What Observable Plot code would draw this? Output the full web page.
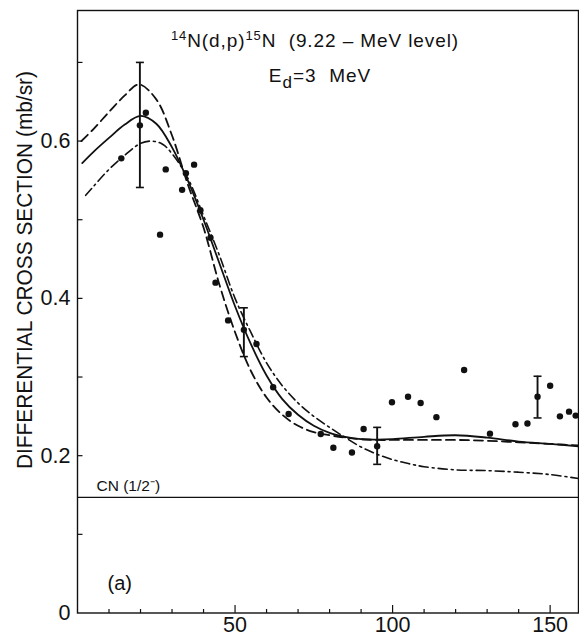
<!DOCTYPE html>
<html><head><meta charset="utf-8">
<script src="https://cdn.jsdelivr.net/npm/d3@7"></script>
<script src="https://cdn.jsdelivr.net/npm/@observablehq/plot@0.6"></script>
<style>body{margin:0;background:#fff} svg{display:block}</style>
</head><body><div id="chart"></div>
<script>
// ---- data ----
const expAngles = [13.9, 19.8, 21.7, 26.2, 28.0, 33.2, 34.4, 37.0, 39.0, 42.2, 43.8, 47.8, 52.8, 56.8, 62.1, 67.0, 77.2, 81.2, 87.1, 90.8, 95.1, 99.8, 104.9, 108.9, 113.9, 122.7, 130.9, 139.0, 142.8, 146.0, 150.0, 153.1, 156.0, 158.1];
const expValues = [0.578, 0.620, 0.636, 0.481, 0.564, 0.538, 0.559, 0.570, 0.512, 0.477, 0.420, 0.372, 0.360, 0.342, 0.287, 0.253, 0.2275, 0.210, 0.204, 0.234, 0.212, 0.268, 0.275, 0.267, 0.249, 0.309, 0.228, 0.240, 0.241, 0.275, 0.289, 0.250, 0.256, 0.251];

const errAngles = [19.8, 52.8, 95.1, 146.0];
const errLow    = [0.541, 0.326, 0.189, 0.248];
const errHigh   = [0.700, 0.388, 0.236, 0.301];

const solidAngles = [1.5, 5, 10, 15, 20, 25, 30, 35, 40, 45, 50, 55, 60, 65, 70, 75, 80, 85, 90, 95, 100, 110, 120, 130, 140, 150, 159];
const solidValues = [0.572, 0.586, 0.604, 0.621, 0.632, 0.622, 0.592, 0.550, 0.500, 0.445, 0.390, 0.342, 0.302, 0.272, 0.252, 0.238, 0.229, 0.224, 0.221, 0.2205, 0.221, 0.224, 0.226, 0.223, 0.218, 0.215, 0.212];

const dashedAngles = [1.2, 5, 10, 15, 19.5, 25, 30, 35, 40, 45, 50, 55, 60, 65, 70, 75, 80, 85, 90, 95, 100, 110, 120, 130, 140, 150, 159];
const dashedValues = [0.600, 0.615, 0.637, 0.658, 0.672, 0.653, 0.607, 0.545, 0.490, 0.418, 0.357, 0.308, 0.274, 0.252, 0.238, 0.230, 0.226, 0.223, 0.221, 0.220, 0.220, 0.220, 0.220, 0.219, 0.217, 0.215, 0.213];

const dashDotAngles = [2.6, 5, 10, 15, 20, 23.5, 27, 30, 35, 40, 45, 50, 55, 60, 65, 70, 75, 80, 85, 90, 95, 100, 105, 110, 120, 130, 140, 150, 159];
const dashDotValues = [0.531, 0.542, 0.564, 0.582, 0.597, 0.600, 0.596, 0.584, 0.553, 0.505, 0.455, 0.400, 0.357, 0.318, 0.289, 0.267, 0.250, 0.236, 0.223, 0.211, 0.202, 0.195, 0.190, 0.186, 0.182, 0.181, 0.179, 0.176, 0.171];

const cnLevel = [0.147];
const cnLabel = "CN (1/2\u207B)";
const panelLabel = "(a)";
const yLabel = "DIFFERENTIAL CROSS SECTION (mb/sr)";

const yLabelTicks = [0, 0.2, 0.4, 0.6];
const yTickMarks = [0.1, 0.2, 0.3, 0.4, 0.5, 0.6, 0.7];
const xLabelTicks = [50, 100, 150];
const xMinorTicks = [10, 20, 30, 40, 60, 70, 80, 90, 110, 120, 130, 140];

// ---- tables ----
const toRows = (a, v) => a.map((x, i) => ({a: x, v: v[i]}));
const points = toRows(expAngles, expValues);
const errors = errAngles.map((a, i) => ({a, lo: errLow[i], hi: errHigh[i]}));
const solid = toRows(solidAngles, solidValues);
const dashed = toRows(dashedAngles, dashedValues);
const dashDot = toRows(dashDotAngles, dashDotValues);

// custom symbols
const rOf = s => Math.sqrt(s / Math.PI);
const hCap = {draw(c, s) { const r = rOf(s); c.moveTo(-r, 0); c.lineTo(r, 0); }};
const tickRight = {draw(c, s) { const r = rOf(s); c.moveTo(0, 0); c.lineTo(r, 0); }};
const tickUp = {draw(c, s) { const r = rOf(s); c.moveTo(0, 0); c.lineTo(0, -r); }};

const ink = "#111";
const font = "'Liberation Sans', Arial, sans-serif";

const chart = Plot.plot({
  width: 579, height: 640,
  marginLeft: 77, marginRight: 1, marginTop: 10, marginBottom: 27.5,
  style: {fontFamily: font, color: ink, background: "#fff"},
  x: {domain: [0, 159], label: null},
  y: {domain: [0, 0.766], label: null},
  marks: [
    Plot.frame({stroke: ink, strokeWidth: 1.4}),
    Plot.ruleY(cnLevel, {stroke: ink, strokeWidth: 1.3}),
    Plot.line(solid, {x: "a", y: "v", curve: "catmull-rom", stroke: ink, strokeWidth: 1.8}),
    Plot.line(dashed, {x: "a", y: "v", curve: "catmull-rom", stroke: ink, strokeWidth: 1.8, strokeDasharray: "9,5"}),
    Plot.line(dashDot, {x: "a", y: "v", curve: "catmull-rom", stroke: ink, strokeWidth: 1.6, strokeDasharray: "9,4,2,4"}),
    Plot.ruleX(errors, {x: "a", y1: "lo", y2: "hi", stroke: ink, strokeWidth: 1.9}),
    Plot.dot(errors, {x: "a", y: "lo", symbol: hCap, r: 4, fill: "none", stroke: ink, strokeWidth: 1.6}),
    Plot.dot(errors, {x: "a", y: "hi", symbol: hCap, r: 4, fill: "none", stroke: ink, strokeWidth: 1.6}),
    Plot.dot(points, {x: "a", y: "v", r: 3.2, fill: ink}),
    Plot.dot(yTickMarks, {y: d => d, frameAnchor: "left", symbol: tickRight, r: 5, fill: "none", stroke: ink, strokeWidth: 1.2}),
    Plot.dot(xMinorTicks, {x: d => d, frameAnchor: "bottom", symbol: tickUp, r: 4, fill: "none", stroke: ink, strokeWidth: 1.2}),
    Plot.dot(xLabelTicks, {x: d => d, frameAnchor: "bottom", symbol: tickUp, r: 8, fill: "none", stroke: ink, strokeWidth: 1.2}),
    Plot.axisY({ticks: yLabelTicks, tickSize: 0, tickPadding: 7, fontSize: 21.5, label: null, tickFormat: d => d === 0 ? "0" : d.toFixed(1)}),
    Plot.axisX({ticks: xLabelTicks, tickSize: 0, tickPadding: 4, fontSize: 21.5, label: null}),
    Plot.text([cnLabel], {frameAnchor: "left", y: cnLevel, dx: 19, dy: -6, lineAnchor: "bottom", textAnchor: "start", fontSize: 15.5, fill: ink, letterSpacing: 0.5}),
    Plot.text([panelLabel], {frameAnchor: "bottom-left", dx: 30, dy: -23, lineAnchor: "bottom", textAnchor: "start", fontSize: 20, fill: ink, letterSpacing: 1})
  ]
});

const svg = d3.select(chart);
// title with superscripts
const t1 = svg.append("text").attr("x", 315).attr("y", 47).attr("text-anchor", "middle")
  .attr("font-family", font).attr("font-size", 19).attr("letter-spacing", 0.9).attr("fill", ink).style("white-space", "pre");
t1.append("tspan").attr("font-size", 13).attr("dy", -7).text("14");
t1.append("tspan").attr("dy", 7).text("N(d,p)");
t1.append("tspan").attr("font-size", 13).attr("dy", -7).text("15");
t1.append("tspan").attr("dy", 7).text("N  (9.22 \u2013 MeV level)");

const t2 = svg.append("text").attr("x", 320).attr("y", 82).attr("text-anchor", "middle")
  .attr("font-family", font).attr("font-size", 19).attr("letter-spacing", 1).attr("fill", ink).style("white-space", "pre");
t2.append("tspan").text("E");
t2.append("tspan").attr("font-size", 17).attr("dy", 6).text("d");
t2.append("tspan").attr("dy", -6).text("=3  MeV");

svg.append("text").attr("transform", "translate(32,270) rotate(-90)").attr("text-anchor", "middle")
  .attr("font-family", font).attr("font-size", 22).attr("fill", ink)
  .attr("textLength", 398).attr("lengthAdjust", "spacingAndGlyphs").text(yLabel);

document.getElementById("chart").append(chart);
</script>
</body></html>
